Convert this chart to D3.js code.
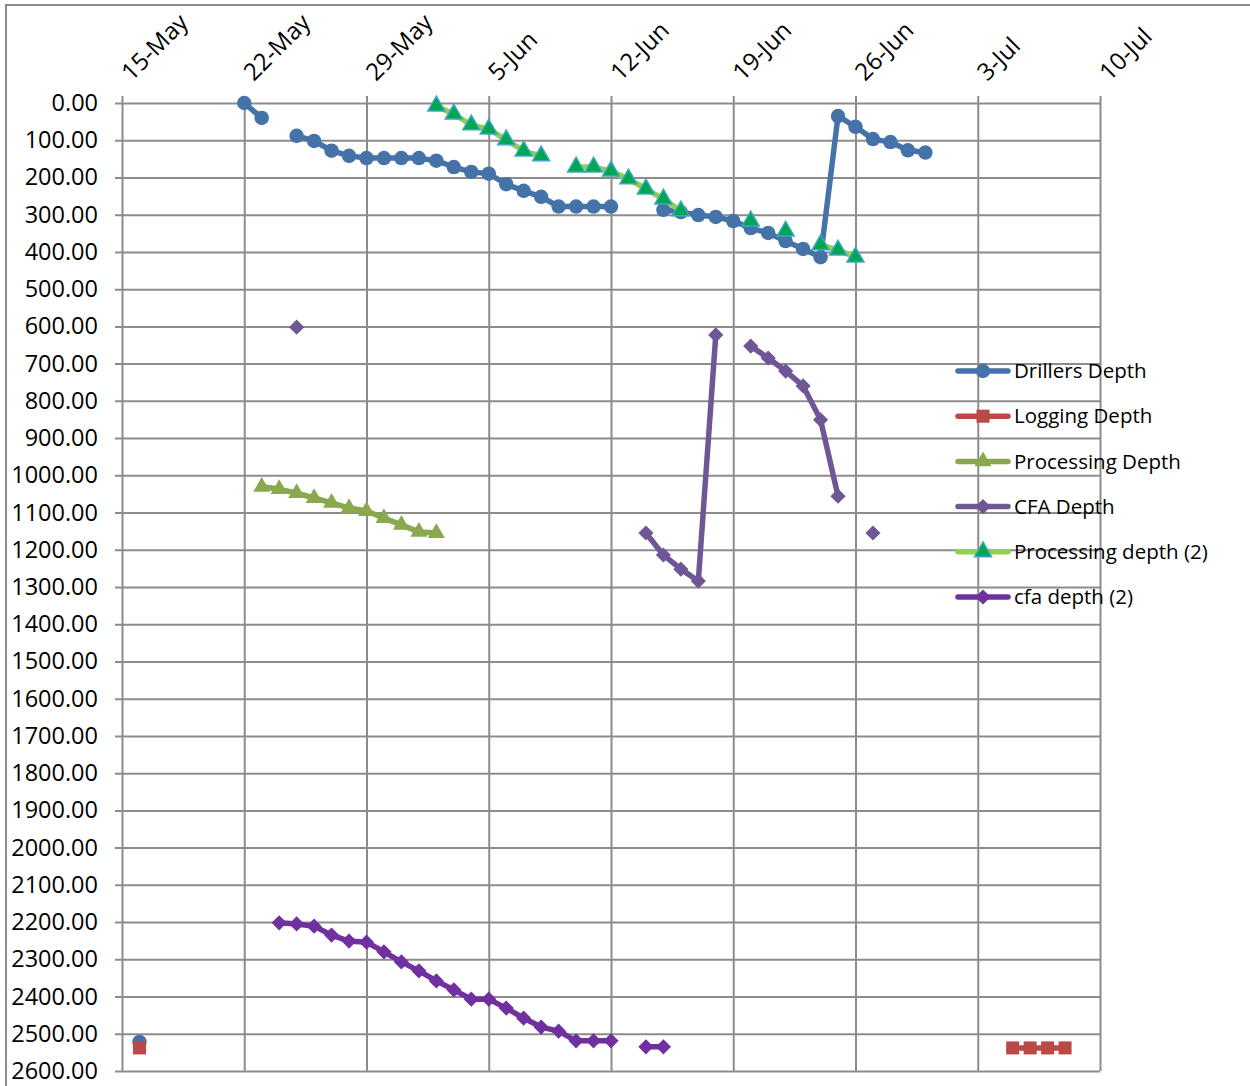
<!DOCTYPE html>
<html>
<head>
<meta charset="utf-8">
<script src="https://cdn.jsdelivr.net/npm/d3@7"></script>
<style>
  html, body { margin: 0; padding: 0; background: #fff; }
  svg { display: block; }
  text { font-family: "Open Sans", "Noto Sans", sans-serif; fill: #000; }
</style>
</head>
<body>
<svg id="chart" width="1250" height="1086"></svg>
<script>
// Depth readings per day (null = no reading, which breaks the line)
const drillersDepth = [
  ["2012-05-16", 2522], ["2012-05-17", null],
  ["2012-05-22", 0], ["2012-05-23", 40], ["2012-05-24", null],
  ["2012-05-25", 88], ["2012-05-26", 102], ["2012-05-27", 128], ["2012-05-28", 142],
  ["2012-05-29", 148], ["2012-05-30", 148], ["2012-05-31", 148], ["2012-06-01", 148],
  ["2012-06-02", 155], ["2012-06-03", 172], ["2012-06-04", 185], ["2012-06-05", 190],
  ["2012-06-06", 218], ["2012-06-07", 236], ["2012-06-08", 252], ["2012-06-09", 278],
  ["2012-06-10", 278], ["2012-06-11", 278], ["2012-06-12", 278],
  ["2012-06-13", null], ["2012-06-14", null],
  ["2012-06-15", 287], ["2012-06-16", 293], ["2012-06-17", 301], ["2012-06-18", 306],
  ["2012-06-19", 317], ["2012-06-20", 336], ["2012-06-21", 349], ["2012-06-22", 371],
  ["2012-06-23", 392], ["2012-06-24", 414], ["2012-06-25", 35], ["2012-06-26", 64],
  ["2012-06-27", 97], ["2012-06-28", 105], ["2012-06-29", 127], ["2012-06-30", 133]
];

const loggingDepth = [
  ["2012-05-16", 2538], ["2012-05-17", null],
  ["2012-07-05", 2538], ["2012-07-06", 2538], ["2012-07-07", 2538], ["2012-07-08", 2538]
];

const processingDepth = [
  ["2012-05-23", 1031], ["2012-05-24", 1037], ["2012-05-25", 1048], ["2012-05-26", 1061],
  ["2012-05-27", 1074], ["2012-05-28", 1088], ["2012-05-29", 1096], ["2012-05-30", 1115],
  ["2012-05-31", 1133], ["2012-06-01", 1152], ["2012-06-02", 1155]
];

const cfaDepth = [
  ["2012-05-25", 602], ["2012-05-26", null],
  ["2012-06-14", 1155], ["2012-06-15", 1214], ["2012-06-16", 1252], ["2012-06-17", 1284],
  ["2012-06-18", 623], ["2012-06-19", null],
  ["2012-06-20", 653], ["2012-06-21", 685], ["2012-06-22", 720], ["2012-06-23", 760],
  ["2012-06-24", 851], ["2012-06-25", 1056], ["2012-06-26", null],
  ["2012-06-27", 1155]
];

const processingDepth2 = [
  ["2012-06-02", 8], ["2012-06-03", 30], ["2012-06-04", 59], ["2012-06-05", 70],
  ["2012-06-06", 99], ["2012-06-07", 129], ["2012-06-08", 142], ["2012-06-09", null],
  ["2012-06-10", 172], ["2012-06-11", 172], ["2012-06-12", 183], ["2012-06-13", 204],
  ["2012-06-14", 231], ["2012-06-15", 258], ["2012-06-16", 290], ["2012-06-17", null],
  ["2012-06-20", 317], ["2012-06-21", null],
  ["2012-06-22", 344], ["2012-06-23", null],
  ["2012-06-24", 381], ["2012-06-25", 395], ["2012-06-26", 414]
];

const cfaDepth2 = [
  ["2012-05-24", 2202], ["2012-05-25", 2205], ["2012-05-26", 2211], ["2012-05-27", 2235],
  ["2012-05-28", 2251], ["2012-05-29", 2254], ["2012-05-30", 2280], ["2012-05-31", 2307],
  ["2012-06-01", 2331], ["2012-06-02", 2358], ["2012-06-03", 2382], ["2012-06-04", 2407],
  ["2012-06-05", 2407], ["2012-06-06", 2431], ["2012-06-07", 2458], ["2012-06-08", 2482],
  ["2012-06-09", 2493], ["2012-06-10", 2519], ["2012-06-11", 2519], ["2012-06-12", 2519],
  ["2012-06-13", null],
  ["2012-06-14", 2535], ["2012-06-15", 2535]
];

const dateTicks = ["2012-05-15", "2012-05-22", "2012-05-29", "2012-06-05", "2012-06-12",
                   "2012-06-19", "2012-06-26", "2012-07-03", "2012-07-10"];
const depthTicks = d3.range(0, 2601, 100);

const seriesNames = ["Drillers Depth", "Logging Depth", "Processing Depth",
                     "CFA Depth", "Processing depth (2)", "cfa depth (2)"];

// ---- drawing ----
const parse = d3.utcParse("%Y-%m-%d");
const svg = d3.select("#chart");

const plot = { left: 122, top: 103, right: 1100, bottom: 1071 };

const x = d3.scaleUtc()
  .domain([parse(dateTicks[0]), parse(dateTicks[dateTicks.length - 1])])
  .range([plot.left, plot.right]);
const y = d3.scaleLinear()
  .domain([0, 2600])
  .range([plot.top, plot.bottom]);

const gridColor = "#8c8c8c";

// outer chart frame
svg.append("rect")
  .attr("x", 6).attr("y", 5).attr("width", 1300).attr("height", 1200)
  .attr("fill", "none").attr("stroke", gridColor).attr("stroke-width", 2);

// horizontal gridlines + left axis
const yAxis = d3.axisLeft(y)
  .tickValues(depthTicks)
  .tickFormat(d3.format(".2f"))
  .tickSizeInner(-(plot.right - plot.left))
  .tickSizeOuter(0);
const gy = svg.append("g")
  .attr("transform", `translate(${plot.left},0)`)
  .call(yAxis);
gy.select(".domain").remove();
gy.selectAll(".tick line")
  .attr("x1", -7)
  .attr("stroke", gridColor).attr("stroke-width", 2);
gy.selectAll(".tick text")
  .attr("x", -24)
  .attr("font-size", 23.5)
  .attr("font-family", "'Open Sans', sans-serif")
  .attr("fill", "#000");

// vertical gridlines + top axis
const xAxis = d3.axisTop(x)
  .tickValues(dateTicks.map(parse))
  .tickFormat(d3.utcFormat("%-d-%b"))
  .tickSizeInner(-(plot.bottom - plot.top))
  .tickSizeOuter(0);
const gx = svg.append("g")
  .attr("transform", `translate(0,${plot.top})`)
  .call(xAxis);
gx.select(".domain").remove();
gx.selectAll(".tick line")
  .attr("y1", -7)
  .attr("stroke", gridColor).attr("stroke-width", 2);
gx.selectAll(".tick text")
  .attr("text-anchor", "start")
  .attr("font-size", 24)
  .attr("font-family", "'Open Sans', sans-serif")
  .attr("fill", "#000")
  .attr("y", 0).attr("dy", 0)
  .attr("transform", "translate(9,-21) rotate(-45)");

// marker shapes
const sym = {
  circle:   d3.symbol().type(d3.symbolCircle).size(165),
  square:   d3.symbol().type(d3.symbolSquare).size(170),
  triangle: d3.symbol().type(d3.symbolTriangle).size(125),
  diamond:  d3.symbol().type(d3.symbolSquare).size(115)
};

const styles = [
  { data: drillersDepth,    line: "#4572a9", width: 5.5, marker: "circle",   fill: "#4572a9", stroke: "none", rot: 0 },
  { data: loggingDepth,     line: "#b94a47", width: 5.5, marker: "square",   fill: "#b94a47", stroke: "none", rot: 0 },
  { data: processingDepth,  line: "#8aa84d", width: 5.5, marker: "triangle", fill: "#8aa84d", stroke: "none", rot: 0 },
  { data: cfaDepth,         line: "#6f5696", width: 5.5, marker: "diamond",  fill: "#6f5696", stroke: "none", rot: 45 },
  { data: processingDepth2, line: "#92d050", width: 5.5, marker: "triangle", fill: "#00a651", stroke: "#3ea6c0", rot: 0 },
  { data: cfaDepth2,        line: "#7030a0", width: 5.5, marker: "diamond",  fill: "#7030a0", stroke: "none", rot: 45 }
];

const line = d3.line()
  .defined(d => d[1] !== null)
  .x(d => x(parse(d[0])))
  .y(d => y(d[1]));

styles.forEach(s => {
  const g = svg.append("g");
  g.append("path")
    .datum(s.data)
    .attr("d", line)
    .attr("fill", "none")
    .attr("stroke", s.line)
    .attr("stroke-width", s.width)
    .attr("stroke-linejoin", "round")
    .attr("stroke-linecap", "round");
  g.selectAll("path.m")
    .data(s.data.filter(d => d[1] !== null))
    .join("path")
    .attr("class", "m")
    .attr("d", sym[s.marker])
    .attr("transform", d => `translate(${x(parse(d[0]))},${y(d[1])}) rotate(${s.rot})`)
    .attr("fill", s.fill)
    .attr("stroke", s.stroke)
    .attr("stroke-width", s.stroke === "none" ? 0 : 1.5);
});

// legend
const legend = svg.append("g");
const legendY = d3.scalePoint().domain(seriesNames).range([371, 597]);
styles.forEach((s, i) => {
  const name = seriesNames[i];
  const ly = legendY(name);
  legend.append("line")
    .attr("x1", 958).attr("x2", 1008)
    .attr("y1", ly).attr("y2", ly)
    .attr("stroke", s.line).attr("stroke-width", s.width)
    .attr("stroke-linecap", "round");
  legend.append("path")
    .attr("d", sym[s.marker])
    .attr("transform", `translate(983,${ly}) rotate(${s.rot})`)
    .attr("fill", s.fill)
    .attr("stroke", s.stroke)
    .attr("stroke-width", s.stroke === "none" ? 0 : 1.5);
  legend.append("text")
    .attr("x", 1014).attr("y", ly)
    .attr("dy", "0.35em")
    .attr("font-size", 20.5)
    .text(name);
});
</script>
</body>
</html>
